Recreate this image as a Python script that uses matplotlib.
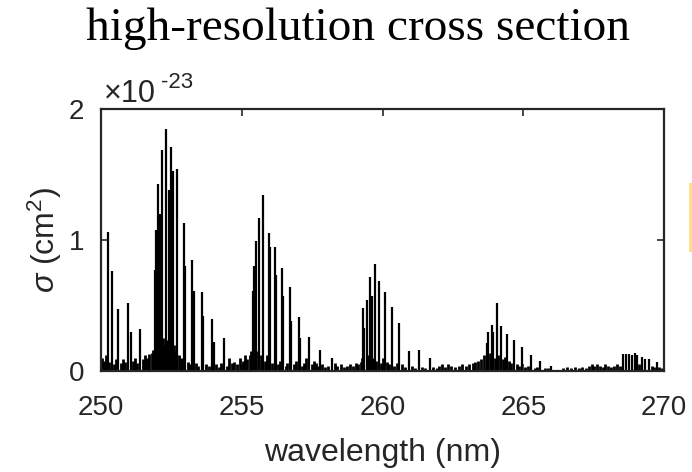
import matplotlib
matplotlib.use("Agg")
import matplotlib.pyplot as plt
from matplotlib.patches import Rectangle

plt.rcParams['font.family'] = ['Liberation Sans', 'DejaVu Sans']
plt.rcParams['mathtext.fontset'] = 'custom'
plt.rcParams['mathtext.rm'] = 'Liberation Sans'
plt.rcParams['mathtext.it'] = 'Liberation Sans:italic'

# strong lines: wavelength (nm), cross section (1e-23 cm^2)
peak_wl = [250.24, 250.38, 250.62, 250.97, 251.05, 251.39,
           251.92, 251.95, 252.04, 252.08, 252.15, 252.30, 252.40, 252.49, 252.54,
           252.69, 252.95, 253.00, 253.24, 253.29, 253.58, 253.63, 253.93, 254.00, 254.36,
           255.41, 255.45, 255.51, 255.62, 255.77, 255.96, 256.01, 256.17, 256.22,
           256.42, 256.47, 256.70, 256.74, 257.02, 257.07, 257.39, 257.78, 258.20,
           259.32, 259.36, 259.44, 259.56, 259.62, 259.72, 259.86, 260.08, 260.33,
           260.60, 260.95, 261.29, 261.69,
           263.70, 263.76, 263.88, 263.93, 264.06, 264.20, 264.41, 264.67, 264.96,
           265.28, 265.60, 266.00,
           268.53, 268.65, 268.77, 268.85, 268.98, 269.05, 269.21, 269.32, 269.47, 269.74]
peak_val = [1.06, 0.76, 0.47, 0.52, 0.30, 0.32,
            0.77, 1.08, 1.43, 1.20, 1.69, 1.85, 1.38, 1.71, 1.53,
            1.54, 1.13, 0.80, 0.85, 0.61, 0.60, 0.42, 0.40, 0.22, 0.25,
            0.61, 0.80, 0.99, 1.17, 1.34, 1.05, 0.95, 0.95, 0.73,
            0.79, 0.57, 0.64, 0.38, 0.41, 0.25, 0.26, 0.16, 0.10,
            0.48, 0.33, 0.54, 0.72, 0.57, 0.82, 0.69, 0.60, 0.49,
            0.37, 0.15, 0.16, 0.10,
            0.21, 0.30, 0.35, 0.30, 0.52, 0.34, 0.28, 0.24, 0.18,
            0.12, 0.08, 0.04,
            0.13, 0.13, 0.13, 0.12, 0.14, 0.12, 0.11, 0.09, 0.09, 0.07]

# weak background lines
bg_wl = [250.02, 250.10, 250.18, 250.30, 250.45, 250.52, 250.70, 250.78, 250.86, 251.12,
         251.20, 251.28, 251.48, 251.56, 251.64, 251.72, 251.80, 251.86,
         251.98, 252.10, 252.20, 252.25, 252.35, 252.44, 252.58, 252.63, 252.78, 252.84, 252.90,
         253.08, 253.16, 253.36, 253.46, 253.72, 253.82, 254.08, 254.18, 254.28, 254.46,
         254.56, 254.64, 254.74, 254.84, 254.94, 255.04, 255.12, 255.20, 255.28, 255.34,
         255.56, 255.68, 255.72, 255.84, 255.90, 256.08, 256.30, 256.36, 256.56, 256.62,
         256.84, 256.92, 257.14, 257.22, 257.30, 257.48, 257.56, 257.64, 257.70, 257.86,
         257.96, 258.06, 258.30, 258.40, 258.52, 258.62, 258.74, 258.86, 258.96, 259.06,
         259.14, 259.22, 259.28, 259.50, 259.66, 259.78, 259.94, 260.00, 260.16, 260.24,
         260.42, 260.50, 260.70, 260.80, 261.06, 261.16, 261.40, 261.50, 261.80, 261.92,
         262.02, 262.12, 262.22, 262.32, 262.42, 262.56, 262.70, 262.84, 262.96, 263.08,
         263.20, 263.30, 263.40, 263.50, 263.60, 263.82, 264.00, 264.12, 264.28, 264.34,
         264.50, 264.58, 264.78, 264.86, 265.06, 265.16, 265.40, 265.50, 265.76, 265.88,
         266.20, 266.40, 266.56, 266.70, 266.84, 266.98, 267.10, 267.22, 267.34, 267.44,
         267.52, 267.62, 267.72, 267.82, 267.92, 268.02, 268.12, 268.22, 268.32, 268.42,
         269.10, 269.56, 269.64, 269.84, 269.92]
bg_val = [0.10, 0.08, 0.12, 0.07, 0.05, 0.09, 0.06, 0.09, 0.07, 0.08,
          0.10, 0.06, 0.09, 0.12, 0.10, 0.13, 0.14, 0.16,
          0.20, 0.22, 0.25, 0.20, 0.24, 0.18, 0.20, 0.15, 0.12, 0.10, 0.09,
          0.07, 0.05, 0.06, 0.04, 0.05, 0.04, 0.05, 0.03, 0.06, 0.04,
          0.10, 0.06, 0.07, 0.05, 0.10, 0.08, 0.12, 0.09, 0.12, 0.15,
          0.15, 0.12, 0.10, 0.08, 0.12, 0.06, 0.05, 0.08, 0.04, 0.06,
          0.05, 0.08, 0.04, 0.06, 0.10, 0.05, 0.08, 0.06, 0.04, 0.05,
          0.03, 0.04, 0.06, 0.04, 0.05, 0.03, 0.04, 0.05, 0.04, 0.06,
          0.05, 0.07, 0.10, 0.12, 0.10, 0.08, 0.06, 0.10, 0.07, 0.05,
          0.04, 0.06, 0.05, 0.03, 0.04, 0.02, 0.03, 0.02, 0.03, 0.02,
          0.04, 0.05, 0.03, 0.05, 0.04, 0.03, 0.04, 0.05, 0.04, 0.05,
          0.06, 0.07, 0.08, 0.09, 0.12, 0.14, 0.10, 0.12, 0.09, 0.11,
          0.08, 0.06, 0.05, 0.04, 0.03, 0.04, 0.02, 0.03, 0.02, 0.02,
          0.01, 0.02, 0.03, 0.02, 0.03, 0.02, 0.03, 0.02, 0.04, 0.05,
          0.04, 0.05, 0.04, 0.03, 0.05, 0.04, 0.03, 0.04, 0.05, 0.04,
          0.05, 0.04, 0.03, 0.03, 0.02]

scale = 1e-23
xticks = [250, 255, 260, 265, 270]
yticks = [0, 1, 2]

W, H = 692, 472
fig = plt.figure(figsize=(W / 100, H / 100), dpi=100)
ax = fig.add_axes([101 / W, 1 - 371 / H, (664 - 101) / W, (371 - 109) / H])

txt = '#262626'
ax.vlines(bg_wl, 0, bg_val, color='black', lw=2.0)
ax.vlines(peak_wl, 0, peak_val, color='black', lw=1.6)

ax.set_xlim(250, 270)
ax.set_ylim(0, 2)
ax.set_xticks(xticks)
ax.set_xticklabels([str(v) for v in xticks])
ax.set_yticks(yticks)
ax.set_yticklabels([str(v) for v in yticks])
ax.tick_params(direction='in', length=5, width=1.2, colors=txt, labelsize=20,
               top=True, right=True)
ax.tick_params(axis='x', pad=17)
ax.tick_params(axis='y', pad=12)
for s in ax.spines.values():
    s.set_color(txt)
    s.set_linewidth(1.6)

ax.set_xlabel('wavelength (nm)', fontsize=23, color=txt)
ax.xaxis.set_label_coords(0.5, -(438 - 371) / 262)
ax.xaxis.label.set_va('top')
ax.set_ylabel(r'$\sigma$ (cm$^2$)', fontsize=23, color=txt)
ax.yaxis.set_label_coords(-(101 - 64) / 563, 0.5)

fig.text(358.5 / W, 1 - 40 / H, 'high-resolution cross section',
         family=['Liberation Serif'], fontsize=34, color='black',
         ha='center', va='baseline')

fig.text(104 / W, 1 - 102 / H, '\u00d710', fontsize=22, color=txt,
         ha='left', va='baseline')
fig.text(161 / W, 1 - 88 / H, '-23', fontsize=16, color=txt,
         ha='left', va='baseline')

fig.add_artist(Rectangle((689 / W, 1 - 252 / H), 4 / W, 69 / H,
                         transform=fig.transFigure, color='#FDE08B', lw=0))

fig.savefig('out.png', dpi=100)
